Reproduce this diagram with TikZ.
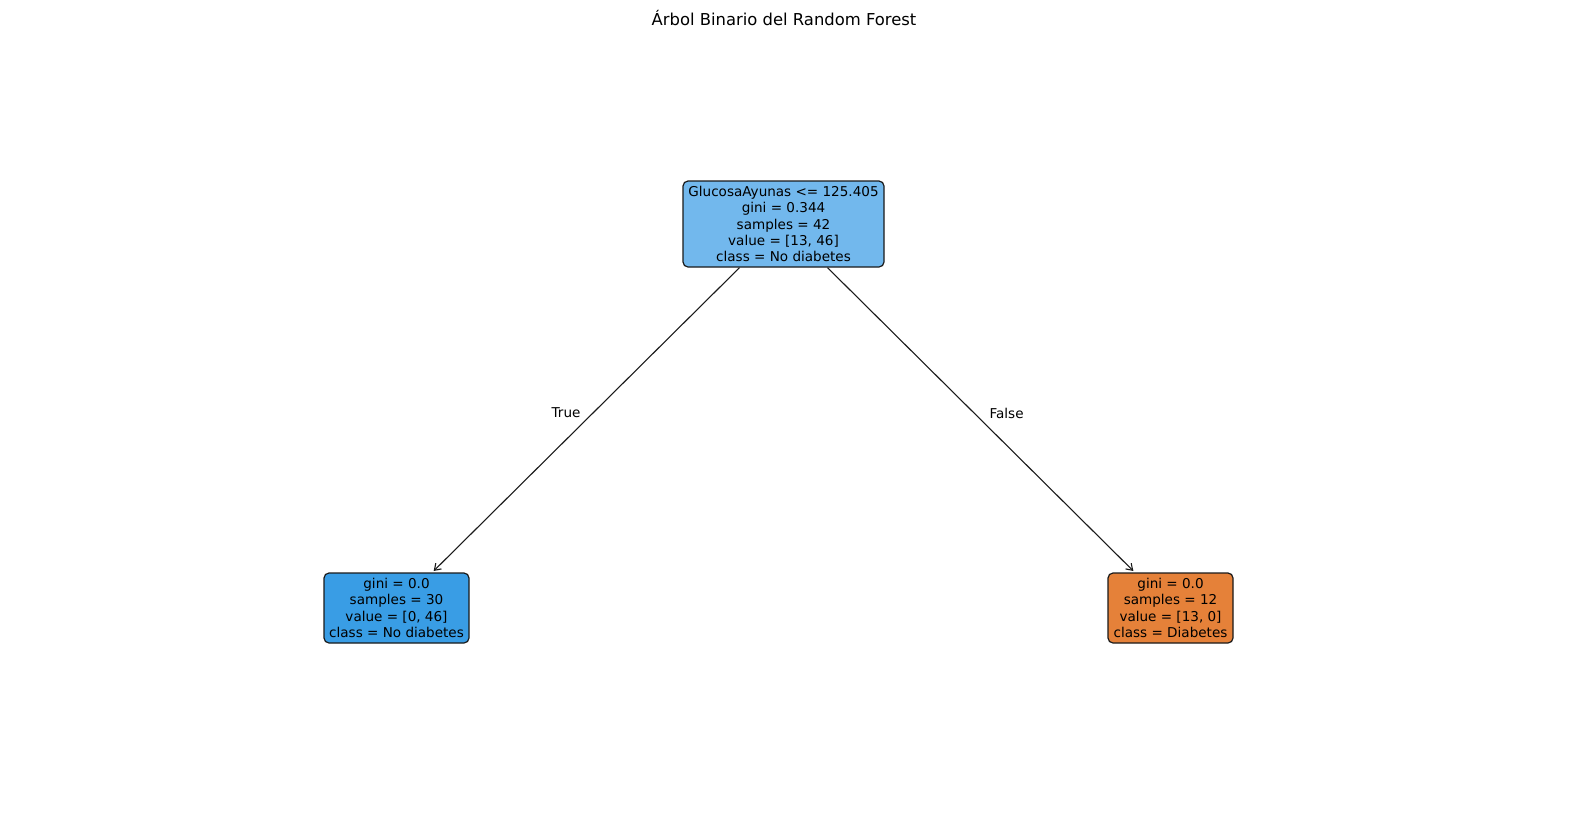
\documentclass[tikz,border=0pt]{standalone}
\usepackage{fontspec}
\setmainfont{DejaVu Sans}
\usetikzlibrary{arrows.meta}
\definecolor{rootBlue}{HTML}{72B8ED}
\definecolor{leafBlue}{HTML}{399DE5}
\definecolor{leafOrange}{HTML}{E58139}
\definecolor{edgeGray}{HTML}{1A1A1A}

\begin{document}
\begin{tikzpicture}[x=1pt, y=-1pt, line width=1.2pt,
  box/.style={draw=edgeGray, rounded corners=5pt, align=center, inner sep=0pt,
    font=\fontsize{13.55}{16.3}\selectfont},
  branch/.style={line width=1.1pt, draw=edgeGray, -{Straight Barb[length=6pt, width=8pt]},
    shorten >=2pt, shorten <=0pt},
  tag/.style={font=\fontsize{13.55}{16.3}\selectfont, inner sep=0pt}]

\useasboundingbox (0,0) rectangle (1570,812);

% title
\node[font=\fontsize{16.4}{20}\selectfont] (title) at (784,18) {Árbol Binario del Random Forest};

% split node
\node[box, fill=rootBlue, minimum width=201pt, minimum height=86pt] (nRoot) at (783.5,224)
  {GlucosaAyunas <= 125.405\\ gini = 0.344\\ samples = 42\\ value = [13, 46]\\ class = No diabetes};

% leaves
\node[box, fill=leafBlue, minimum width=145pt, minimum height=70pt] (nTrue) at (396.5,608)
  {gini = 0.0\\ samples = 30\\ value = [0, 46]\\ class = No diabetes};
\node[box, fill=leafOrange, minimum width=125pt, minimum height=70pt] (nFalse) at (1170.5,608)
  {gini = 0.0\\ samples = 12\\ value = [13, 0]\\ class = Diabetes};

% branches
\draw[branch] (nRoot) -- node[tag, pos=0.477, left=12pt] {True} (nTrue);
\draw[branch] (nRoot) -- node[tag, pos=0.477, right=15pt] {False} (nFalse);

\end{tikzpicture}
\end{document}
